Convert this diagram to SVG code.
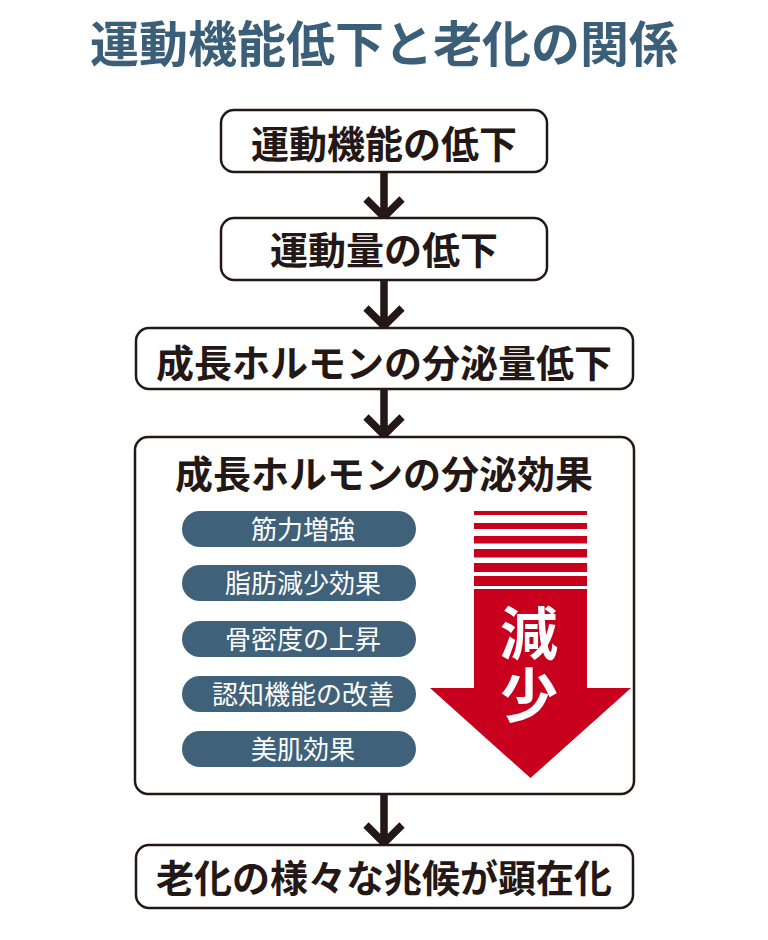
<svg xmlns="http://www.w3.org/2000/svg" width="768" height="940" viewBox="0 0 768 940">
<defs>
<style>
.box{fill:#fff;stroke:#231815;stroke-width:2.5}
.bt{font-family:"Noto Sans CJK JP",sans-serif;font-weight:700;font-size:38px;fill:#231815;text-anchor:middle}
.pill{fill:#3f6179}
.pt{font-family:"Noto Sans CJK JP",sans-serif;font-weight:400;font-size:26px;fill:#fff;text-anchor:middle}
.con{fill:none;stroke:#231815;stroke-width:7.5;stroke-linecap:butt;stroke-linejoin:miter}
.red{fill:#c8001e}
</style>
</defs>
<rect width="768" height="940" fill="#fff"/>
<text id="title" x="384" y="62" font-family="'Noto Sans CJK JP',sans-serif" font-weight="700" font-size="49" fill="#3b5f78" text-anchor="middle">運動機能低下と老化の関係</text>

<g id="connectors">
<path class="con" d="M384 172V216M366 199L384 217L402 199"/>
<path class="con" d="M384 280V326M366 308L384 326L402 308"/>
<path class="con" d="M384 389V435M366 417L384 435L402 417"/>
<path class="con" d="M384 794V843M366 825L384 843L402 825"/>
</g>

<g id="n1">
<rect class="box" x="221" y="110" width="326" height="62" rx="13"/>
<text class="bt" x="384" y="158">運動機能の低下</text>
</g>
<g id="n2">
<rect class="box" x="221" y="218" width="326" height="62" rx="13"/>
<text class="bt" x="384" y="264">運動量の低下</text>
</g>
<g id="n3">
<rect class="box" x="136" y="328" width="497" height="61" rx="13"/>
<text class="bt" x="384" y="377">成長ホルモンの分泌量低下</text>
</g>
<g id="n4">
<rect class="box" x="135" y="437" width="499" height="357" rx="13"/>
<text class="bt" x="384" y="488">成長ホルモンの分泌効果</text>
<g id="p1"><rect class="pill" x="182" y="511" width="234" height="36" rx="18"/><text class="pt" x="303" y="539">筋力増強</text></g>
<g id="p2"><rect class="pill" x="182" y="565" width="234" height="36" rx="18"/><text class="pt" x="303" y="593">脂肪減少効果</text></g>
<g id="p3"><rect class="pill" x="182" y="621" width="234" height="36" rx="18"/><text class="pt" x="303" y="649">骨密度の上昇</text></g>
<g id="p4"><rect class="pill" x="182" y="676" width="234" height="36" rx="18"/><text class="pt" x="303" y="704">認知機能の改善</text></g>
<g id="p5"><rect class="pill" x="182" y="731" width="234" height="36" rx="18"/><text class="pt" x="303" y="759">美肌効果</text></g>
<g id="decrease">
<rect class="red" x="474" y="511" width="113" height="4"/>
<rect class="red" x="474" y="523" width="113" height="6"/>
<rect class="red" x="474" y="536" width="113" height="7.5"/>
<rect class="red" x="474" y="549" width="113" height="8.5"/>
<rect class="red" x="474" y="563" width="113" height="9"/>
<rect class="red" x="474" y="576" width="113" height="10"/>
<path class="red" d="M474 589H587V688H631L530.5 778L430 688H474Z"/>
<text x="529" y="666" writing-mode="vertical-rl" text-anchor="middle" letter-spacing="4" font-family="'Noto Sans CJK JP',sans-serif" font-weight="700" font-size="58" fill="#fff">減少</text>
</g>
</g>
<g id="n5">
<rect class="box" x="136" y="845" width="497" height="63" rx="13"/>
<text class="bt" x="384" y="892">老化の様々な兆候が顕在化</text>
</g>
</svg>
